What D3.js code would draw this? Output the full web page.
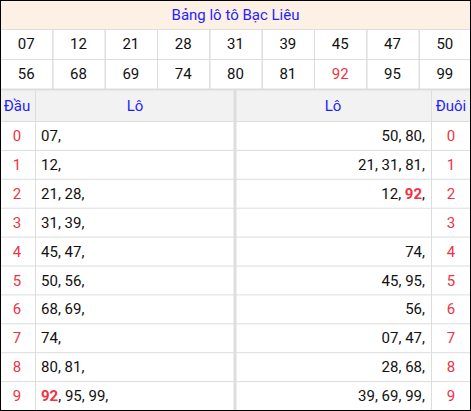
<!DOCTYPE html>
<html><head><meta charset="utf-8">
<script src="https://cdn.jsdelivr.net/npm/d3@7"></script>
<style>body{margin:0;background:#fff}svg{display:block;font-family:Roboto,sans-serif}</style>
</head><body><svg id="c" width="471" height="411"></svg>
<script>
const title = "Bảng lô tô Bạc Liêu";
const numbers = ["07","12","21","28","31","39","45","47","50","56","68","69","74","80","81","92","95","99"];
const special = ["92"];
const heads = [["07"],["12"],["21","28"],["31","39"],["45","47"],["50","56"],["68","69"],["74"],["80","81"],["92","95","99"]];
const tails = [["50","80"],["21","31","81"],["12","92"],[],["74"],["45","95"],["56"],["07","47"],["28","68"],["39","69","99"]];
const digits = d3.range(10);

const svg = d3.select("#c");
const W = 471, red = "#ee3344", blue = "#1f1fff", grid = "#dddddd", txt = "#111";
svg.append("rect").attr("x",0).attr("y",0).attr("width",W).attr("height",29).attr("fill","#fdf0e4");
svg.append("text").attr("x",W/2).attr("y",20).attr("text-anchor","middle").attr("font-size",15).attr("fill",blue).text(title);

const xc = d3.scaleBand().domain(d3.range(9)).range([0,W]);
const yr = d3.scaleBand().domain([0,1]).range([29,89]);
const g = svg.append("g");
numbers.forEach((n,i)=>{
  const c=i%9, r=Math.floor(i/9);
  g.append("rect").attr("x",xc(c)+0.5).attr("y",yr(r)+0.5).attr("width",xc.bandwidth()).attr("height",yr.bandwidth()).attr("fill","none").attr("stroke",grid);
  g.append("text").attr("x",xc(c)+xc.bandwidth()/2).attr("y",yr(r)+20).attr("text-anchor","middle").attr("font-size",15)
   .attr("fill",special.includes(n)?red:txt).text(n);
});
// header
svg.append("rect").attr("x",0).attr("y",90).attr("width",W).attr("height",31).attr("fill","#f2f2f2");
const cols=[0,35,235,431,W];
const yd = d3.scaleBand().domain(digits).range([121,410]);
// horizontal lines
svg.append("line").attr("x1",0).attr("x2",W).attr("y1",89.5).attr("y2",89.5).attr("stroke",grid).attr("stroke-width",2);
digits.forEach(d=>svg.append("line").attr("x1",0).attr("x2",W).attr("y1",yd(d)+0.5).attr("y2",yd(d)+0.5).attr("stroke",grid));
[35,431].forEach(x=>svg.append("line").attr("x1",x+0.5).attr("x2",x+0.5).attr("y1",90).attr("y2",410).attr("stroke",grid));
svg.append("line").attr("x1",235).attr("x2",235).attr("y1",90).attr("y2",410).attr("stroke",grid).attr("stroke-width",3);
const hdr=[["Đầu",17],["Lô",135],["Lô",333],["Đuôi",451]];
hdr.forEach(([t,x])=>svg.append("text").attr("x",x).attr("y",111).attr("text-anchor","middle").attr("font-size",15).attr("fill",blue).text(t));
function listText(sel, arr){
  arr.forEach((n,i)=>{
    sel.append("tspan").attr("fill",special.includes(n)?red:txt).attr("font-weight",special.includes(n)?"bold":null).text(n);
    sel.append("tspan").attr("fill",txt).text(i<arr.length-1?", ":",");
  });
}
digits.forEach(d=>{
  const y=yd(d)+20;
  svg.append("text").attr("x",17).attr("y",y).attr("text-anchor","middle").attr("font-size",15).attr("fill",red).text(d);
  svg.append("text").attr("x",451).attr("y",y).attr("text-anchor","middle").attr("font-size",15).attr("fill",red).text(d);
  listText(svg.append("text").attr("x",41).attr("y",y).attr("font-size",15), heads[d]);
  listText(svg.append("text").attr("x",425).attr("y",y).attr("text-anchor","end").attr("font-size",15), tails[d]);
});
svg.append("rect").attr("x",0.5).attr("y",0.5).attr("width",W-1).attr("height",410).attr("fill","none").attr("stroke","#000");
</script></body></html>
